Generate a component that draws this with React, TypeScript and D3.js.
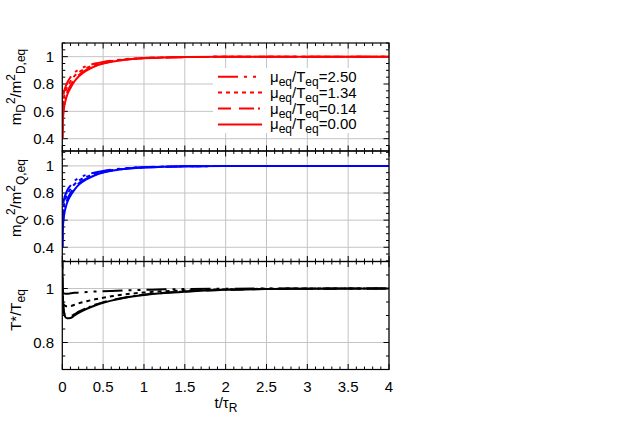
import React from 'react';
import * as d3 from 'd3';

// sample times t/tau_R
const times = [0, 0.005, 0.01, 0.02, 0.04, 0.06, 0.1, 0.15, 0.2, 0.3, 0.4, 0.5, 0.6, 0.75, 1, 1.25, 1.5, 2, 2.5, 3, 4];

// m_D^2 / m_D,eq^2
const mD250 = [0.4, 0.6, 0.68, 0.74, 0.78, 0.81, 0.85, 0.885, 0.905, 0.932, 0.95, 0.962, 0.971, 0.981, 0.991, 0.995, 0.997, 0.999, 1, 1, 1];
const mD134 = [0.4, 0.56, 0.63, 0.7, 0.75, 0.78, 0.82, 0.86, 0.885, 0.918, 0.94, 0.956, 0.967, 0.979, 0.99, 0.994, 0.997, 0.999, 1, 1, 1];
const mD014 = [0.4, 0.52, 0.58, 0.64, 0.7, 0.74, 0.79, 0.835, 0.865, 0.905, 0.933, 0.952, 0.965, 0.977, 0.989, 0.994, 0.997, 0.999, 1, 1, 1];
const mD000 = [0.4, 0.5, 0.56, 0.62, 0.68, 0.72, 0.77, 0.82, 0.855, 0.9, 0.93, 0.95, 0.963, 0.976, 0.988, 0.994, 0.997, 0.999, 1, 1, 1];

// m_Q^2 / m_Q,eq^2
const mQ250 = [0.4, 0.62, 0.7, 0.75, 0.79, 0.82, 0.855, 0.89, 0.91, 0.935, 0.952, 0.963, 0.972, 0.982, 0.991, 0.995, 0.997, 0.999, 1, 1, 1];
const mQ134 = [0.4, 0.57, 0.64, 0.71, 0.76, 0.79, 0.83, 0.865, 0.89, 0.92, 0.942, 0.957, 0.968, 0.98, 0.99, 0.994, 0.997, 0.999, 1, 1, 1];
const mQ014 = [0.4, 0.53, 0.59, 0.65, 0.71, 0.75, 0.8, 0.84, 0.87, 0.907, 0.934, 0.953, 0.965, 0.978, 0.989, 0.994, 0.997, 0.999, 1, 1, 1];
const mQ000 = [0.4, 0.51, 0.57, 0.63, 0.69, 0.73, 0.78, 0.825, 0.86, 0.902, 0.931, 0.951, 0.964, 0.977, 0.988, 0.994, 0.997, 0.999, 1, 1, 1];

// T* / T_eq
const T250 = [1.0, 0.99, 0.985, 0.982, 0.981, 0.981, 0.982, 0.984, 0.985, 0.987, 0.989, 0.99, 0.991, 0.993, 0.995, 0.997, 0.998, 0.999, 1, 1, 1];
const T134 = [1.0, 0.965, 0.95, 0.94, 0.935, 0.934, 0.935, 0.94, 0.945, 0.953, 0.96, 0.966, 0.971, 0.978, 0.985, 0.99, 0.993, 0.997, 0.999, 1, 1];
const T014 = [1.12, 0.99, 0.95, 0.915, 0.898, 0.895, 0.897, 0.905, 0.914, 0.928, 0.94, 0.949, 0.957, 0.966, 0.977, 0.984, 0.989, 0.995, 0.998, 0.999, 1];
const T000 = [1.15, 1.0, 0.95, 0.91, 0.893, 0.89, 0.891, 0.9, 0.91, 0.925, 0.937, 0.947, 0.955, 0.965, 0.976, 0.983, 0.988, 0.995, 0.998, 0.999, 1];

const muLabels = ['2.50', '1.34', '0.14', '0.00'];
const xTicks = [0, 0.5, 1, 1.5, 2, 2.5, 3, 3.5, 4];
const xTickLabels = ['0', '0.5', '1', '1.5', '2', '2.5', '3', '3.5', '4'];
const yTicksM = [0.4, 0.6, 0.8, 1];
const yTickLabelsM = ['0.4', '0.6', '0.8', '1'];
const yTicksT = [0.8, 1];
const yTickLabelsT = ['0.8', '1'];

const dashes = ['20,6,3,6,3,6', '4,4', '13,8,15,4,2,4', null];
const FONT = "'Liberation Sans', Arial, Helvetica, sans-serif";

const x = d3.scaleLinear().domain([0, 4]).range([62.3, 389]);

const panels = [
  { key: 'D', color: '#ff0000', series: [mD250, mD134, mD014, mD000], domain: [0.31, 1.1], range: [151, 43], ticks: yTicksM, labels: yTickLabelsM, sub: 'D', labelY: 87 },
  { key: 'Q', color: '#0000ff', series: [mQ250, mQ134, mQ014, mQ000], domain: [0.295, 1.11], range: [261.5, 151], ticks: yTicksM, labels: yTickLabelsM, sub: 'Q', labelY: 198 },
  { key: 'T', color: '#000000', series: [T250, T134, T014, T000], domain: [0.7, 1.1], range: [369.5, 261.5], ticks: yTicksT, labels: yTickLabelsT, sub: '', labelY: 310 },
];

function YLabel({ p }: any) {
  const t = `translate(21,${p.labelY}) rotate(-90)`;
  if (p.key === 'T') {
    return (
      <text transform={t} textAnchor="middle" fontSize={15} fontFamily={FONT}>
        T*/T<tspan dy={4} fontSize={12}>eq</tspan>
      </text>
    );
  }
  return (
    <text transform={t} textAnchor="middle" fontSize={15} fontFamily={FONT}>
      m<tspan dy={4} fontSize={12}>{p.sub}</tspan>
      <tspan dy={-10} fontSize={12}>2</tspan>
      <tspan dy={6}>/m</tspan>
      <tspan dy={-6} fontSize={12}>2</tspan>
      <tspan dy={10} fontSize={12}>{p.sub},eq</tspan>
    </text>
  );
}

export default function App() {
  const [x0, x1] = x.range();
  const minorX = d3.range(0, 4.001, 0.1);
  return (
    <div style={{ position: 'absolute', left: 0, top: 0 }}>
      <svg width={623} height={436} style={{ display: 'block', background: '#fff' }}>
        <defs>
          {panels.map(p => (
            <clipPath id={'clip' + p.key} key={p.key}>
              <rect x={x0} y={p.range[1]} width={x1 - x0} height={p.range[0] - p.range[1]} />
            </clipPath>
          ))}
        </defs>
        {panels.map((p, pi) => {
          const y = d3.scaleLinear().domain(p.domain).range(p.range);
          const [yb, yt] = p.range;
          const minorY = d3.range(Math.ceil(p.domain[0] / 0.05) * 0.05, p.domain[1] + 1e-6, 0.05);
          const line = d3.line<number>().x((d, i) => x(times[i])).y(d => y(d)).curve(d3.curveMonotoneX);
          const isMajorY = (v: number) => Math.abs(v / 0.2 - Math.round(v / 0.2)) < 1e-6;
          const isMajorX = (v: number) => Math.abs(v / 0.5 - Math.round(v / 0.5)) < 1e-6;
          return (
            <g key={p.key}>
              {/* grid */}
              {xTicks.map(t => (
                <line key={'gx' + t} x1={x(t)} x2={x(t)} y1={yt} y2={yb} stroke="#c4c4c4" strokeWidth={1} />
              ))}
              {p.ticks.map(t => (
                <line key={'gy' + t} x1={x0} x2={x1} y1={y(t)} y2={y(t)} stroke="#c4c4c4" strokeWidth={1} />
              ))}
              {pi === 0 && <rect x={213} y={68} width={x1 - 213} height={65} fill="#fff" />}
              {/* ticks */}
              {minorX.map(t => {
                const L = isMajorX(t) ? 5.5 : 3;
                return (
                  <g key={'tx' + t}>
                    <line x1={x(t)} x2={x(t)} y1={yb} y2={yb - L} stroke="#000" />
                    <line x1={x(t)} x2={x(t)} y1={yt} y2={yt + L} stroke="#000" />
                  </g>
                );
              })}
              {minorY.map(v => {
                const L = isMajorY(v) ? 5.5 : 3;
                return (
                  <g key={'ty' + v}>
                    <line x1={x0} x2={x0 + L} y1={y(v)} y2={y(v)} stroke="#000" />
                    <line x1={x1} x2={x1 - L} y1={y(v)} y2={y(v)} stroke="#000" />
                  </g>
                );
              })}
              {/* curves */}
              <g clipPath={`url(#clip${p.key})`}>
                {p.series.map((s, i) => (
                  <path key={i} d={line(s) || ''} fill="none" stroke={p.color} strokeWidth={2}
                    strokeDasharray={dashes[i] || undefined} />
                ))}
              </g>
              {/* frame */}
              <rect x={x0} y={yt} width={x1 - x0} height={yb - yt} fill="none" stroke="#000" strokeWidth={1.2} />
              {/* y tick labels */}
              {p.ticks.map((t, i) => (
                <text key={'yl' + t} x={54} y={y(t)} dy="0.35em" textAnchor="end" fontSize={15} fontFamily={FONT}>{p.labels[i]}</text>
              ))}
              <YLabel p={p} />
            </g>
          );
        })}
        {/* legend */}
        {muLabels.map((m, i) => {
          const ly = 76.7 + i * 15.9;
          return (
            <g key={m}>
              <line x1={218} x2={262} y1={ly} y2={ly} stroke="#ff0000" strokeWidth={2} strokeDasharray={dashes[i] || undefined} />
              <text x={270} y={ly + 5} fontSize={15} fontFamily={FONT}>
                μ<tspan dy={4} fontSize={12}>eq</tspan><tspan dy={-4}>/T</tspan><tspan dy={4} fontSize={12}>eq</tspan><tspan dy={-4}>={m}</tspan>
              </text>
            </g>
          );
        })}
        {/* x tick labels */}
        {xTicks.map((t, i) => (
          <text key={'xl' + t} x={x(t)} y={392} textAnchor="middle" fontSize={15} fontFamily={FONT}>{xTickLabels[i]}</text>
        ))}
        <text x={226} y={408} textAnchor="middle" fontSize={15} fontFamily={FONT}>
          t/τ<tspan dy={4} fontSize={12}>R</tspan>
        </text>
      </svg>
    </div>
  );
}
